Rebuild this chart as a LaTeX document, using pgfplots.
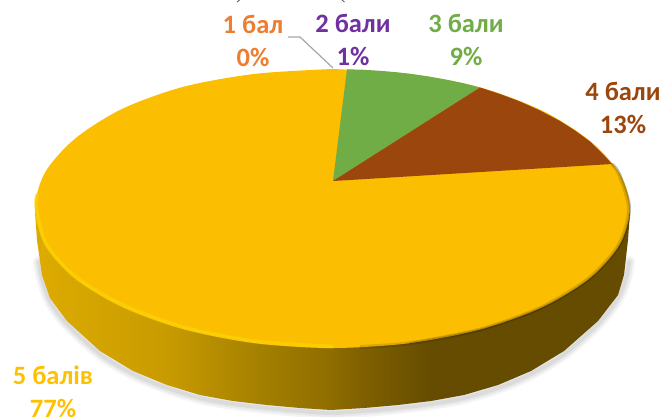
\documentclass[border=0pt]{standalone}
\usepackage{pgfplots}
\pgfplotsset{compat=1.18}
\usepackage{fontspec}
\setmainfont[BoldFont={Carlito Bold}]{Carlito}
\definecolor{cTop}{HTML}{FBBE00}
\definecolor{cGreen}{HTML}{70AD47}
\definecolor{cBrown}{HTML}{9A460C}
\definecolor{tOne}{HTML}{ED7D31}
\definecolor{tTwo}{HTML}{7030A0}
\definecolor{tFive}{HTML}{FFC000}
\definecolor{s1}{HTML}{DCAA00}
\definecolor{s2}{HTML}{C89B00}
\definecolor{s3}{HTML}{A27E00}
\definecolor{s4}{HTML}{8F6D00}
\definecolor{s5}{HTML}{7F6000}
\definecolor{s6}{HTML}{654C00}
\pgfdeclarehorizontalshading{sideshade}{100bp}{color(0bp)=(s1); color(25.7bp)=(s1); color(36bp)=(s2); color(44.5bp)=(s3); color(49.8bp)=(s4); color(52.6bp)=(s5); color(58.3bp)=(s6); color(100bp)=(s6)}
\tikzset{lab/.style={anchor=base, font=\fontsize{26.5}{30}\selectfont\bfseries}}
\begin{document}
\begin{tikzpicture}
\useasboundingbox (0,0) rectangle (662pt,416pt);
\clip (0,0) rectangle (662pt,416pt);
\begin{axis}[
  scale only axis, width=662pt, height=416pt,
  xmin=0, xmax=662, ymin=0, ymax=416, y dir=reverse,
  axis lines=none, clip=false,
]
% soft shadow
\addplot[draw=black, opacity=.04, line width=12pt, line cap=round, smooth] coordinates {(39,262)(42,278)(50,301)(67,324)(100,354)(133,374)(167,388)(200,398)(233,404)(267,408)(300,411)(331,413)(364,411)(398,408)(431,404)(464,398)(498,388)(531,374)(564,354)(598,324)(618,298)(626,278)(629,262)};
\addplot[draw=black, opacity=.05, line width=8pt, line cap=round, smooth] coordinates {(39,262)(42,278)(50,301)(67,324)(100,354)(133,374)(167,388)(200,398)(233,404)(267,408)(300,411)(331,413)(364,411)(398,408)(431,404)(464,398)(498,388)(531,374)(564,354)(598,324)(618,298)(626,278)(629,262)};
\addplot[draw=black, opacity=.06, line width=4pt, line cap=round, smooth] coordinates {(39,262)(42,278)(50,301)(67,324)(100,354)(133,374)(167,388)(200,398)(233,404)(267,408)(300,411)(331,413)(364,411)(398,408)(431,404)(464,398)(498,388)(531,374)(564,354)(598,324)(618,298)(626,278)(629,262)};
% side wall
\addplot[shading=sideshade, draw=none] coordinates {
(35,212)(37,240)(42,275)(50,298)(67,321)(100,351)(133,371)(167,385)(200,395)(233,401)(267,405)(300,408)(331,410)(364,408)(398,405)(431,401)(464,395)(498,385)(531,371)(564,351)(598,321)(618,295)(624,275)(628,240)(630,212)} -- cycle;
% top face: 5 балів 77 %
\addplot[fill=cTop, draw=none, smooth] coordinates {
(332.5,69)(409.5,73.8)(481.25,87.7)(542.9,111)(590.1,141)(619.9,174)(630,208.5)(619.9,244.6)(590.1,278.25)(542.9,307.1)(481.25,329.3)(409.5,343.2)(332.5,348)(255.5,343.2)(183.75,329.3)(122.1,307.1)(74.9,278.25)(45.1,244.6)(35,208.5)(45.1,172.4)(74.9,138.75)(122.1,108.9)(183.75,86.7)(255.5,73.8)(332.5,69)};
% 3 бали 9 %
\addplot[fill=cGreen, draw=none] coordinates {
(333,181)(347,69.3)(363,69.75)(380,70.8)(395,72.1)(410,73.8)(428,76.4)(445,79.4)(463,83.1)(480,87.5)} -- cycle;
% 4 бали 13 %
\addplot[fill=cBrown, draw=none] coordinates {
(333,181)(480,87.5)(500,94)(520,101.5)(540,110.5)(560,121)(575,130.5)(590,141.5)(602,153)(612,164)} -- cycle;
% rim: bright on the lower left, dark on the right
\addplot[draw=cTop!60!yellow, line width=4pt, opacity=.5, line cap=round, smooth] coordinates {(37,195)(36.5,208.5)(46.5,244.6)(76.5,277.5)(124,305.5)(185,327.5)(256,341.5)(332,346.5)};
\addplot[draw=yellow!35!cTop, line width=1.8pt, line cap=round, smooth] coordinates {(37,195)(36.5,208.5)(46.5,244.6)(76.5,277.5)(124,305.5)(185,327.5)(256,341.5)};
\addplot[draw=black, opacity=.12, line width=4pt, smooth] coordinates {(612,164)(619,174)(629,208.5)(619,244.6)(589,278.25)(542,307.1)(481,329.3)(409.5,343.2)(360,347)};
\addplot[draw=black, opacity=.18, line width=2pt, smooth] coordinates {(612,164)(619.9,174)(630,208.5)(619.9,244.6)(590.1,278.25)(542.9,307.1)(481.25,329.3)(409.5,343.2)};
% leader
\addplot[draw=black!35, line width=1.2pt] coordinates {(288,37)(300,37)(333,68)};
% clipped title remains at the top edge
\addplot[draw=black!60, line width=.9pt] coordinates {(239.5,0)(237,2)};
\addplot[draw=black!60, line width=.9pt] coordinates {(342,0)(344.5,2)};
% labels
\node[lab, text=tOne] at (axis cs:253,33.5) {1 бал};
\node[lab, text=tOne] at (axis cs:253,66.7) {0\%};
\node[lab, text=tTwo] at (axis cs:353,32) {2 бали};
\node[lab, text=tTwo] at (axis cs:353,65) {1\%};
\node[lab, text=cGreen] at (axis cs:466,32) {3 бали};
\node[lab, text=cGreen] at (axis cs:466,65) {9\%};
\node[lab, text=cBrown] at (axis cs:623,100) {4 бали};
\node[lab, text=cBrown] at (axis cs:623,133) {13\%};
\node[lab, text=tFive] at (axis cs:53,384) {5 балів};
\node[lab, text=tFive] at (axis cs:53,417) {77\%};
\end{axis}
\end{tikzpicture}
\end{document}
